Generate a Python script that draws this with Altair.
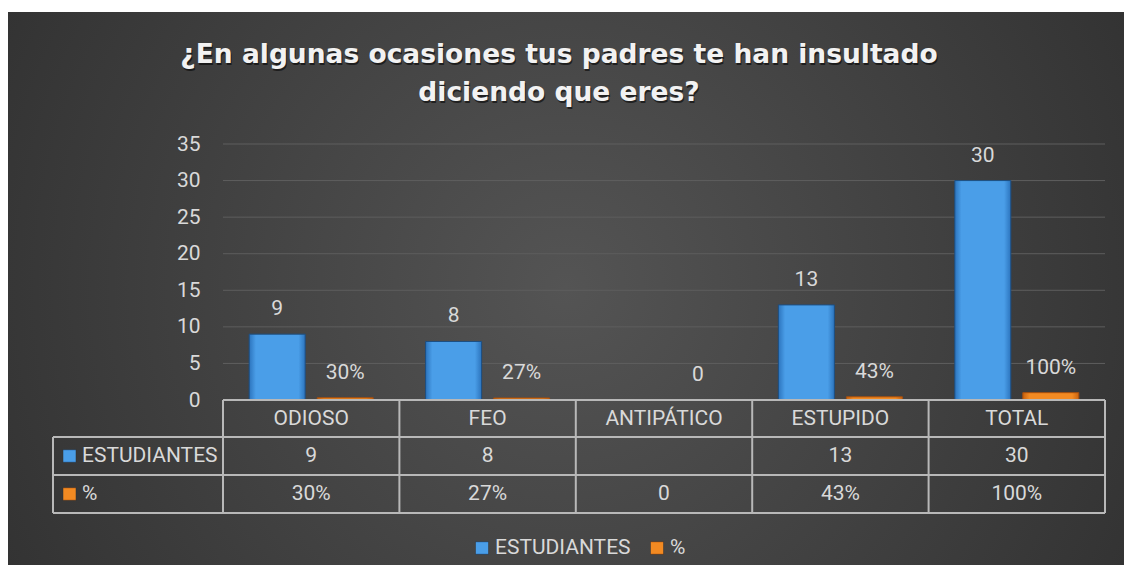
import altair as alt
import pandas as pd

# ---------------- data ----------------
categories = ["ODIOSO", "FEO", "ANTIPÁTICO", "ESTUPIDO", "TOTAL"]
estudiantes = [9, 8, None, 13, 30]
porcentaje = [0.30, 0.27, 0.0, 0.43, 1.00]
est_labels = ["9", "8", "", "13", "30"]
pct_labels = ["30%", "27%", "0", "43%", "100%"]
series = ["ESTUDIANTES", "%"]
y_ticks = [0, 5, 10, 15, 20, 25, 30, 35]
title_lines = ["¿En algunas ocasiones tus padres te han insultado", "diciendo que eres?"]

rows = []
for c, e, p, el, pl in zip(categories, estudiantes, porcentaje, est_labels, pct_labels):
    rows.append({"cat": c, "serie": series[0], "value": e, "label": el})
    rows.append({"cat": c, "serie": series[1], "value": p, "label": pl})
df = pd.DataFrame(rows)
df_est = df[df.serie == series[0]]
df_pct = df[df.serie == series[1]]
df_cat = pd.DataFrame({"cat": categories, "est": est_labels, "pct": pct_labels})
one = pd.DataFrame({"k": [0]})

# ---------------- style ----------------
W, H = 882, 256
FONT = "Roboto"
TXT = "#d9d9d9"
LINE = "#b8b8b8"
FS = 21

def lin(c_edge, c_mid, horizontal=True):
    return alt.LinearGradient(
        gradient="linear",
        stops=[alt.GradientStop(color=c_edge, offset=0),
               alt.GradientStop(color=c_mid, offset=0.12),
               alt.GradientStop(color=c_mid, offset=0.88),
               alt.GradientStop(color=c_edge, offset=1)],
        x1=0, x2=1 if horizontal else 0, y1=0, y2=0 if horizontal else 1)

blue = lin("#2c74bd", "#4a9ee8")
orange = lin("#c9630f", "#f28a22")
bg = alt.RadialGradient(
    gradient="radial",
    stops=[alt.GradientStop(color="#545454", offset=0),
           alt.GradientStop(color="#262626", offset=1)],
    x1=0.5, y1=0.5, r1=0, x2=0.5, y2=0.5, r2=0.78)

x_scale = alt.Scale(domain=categories, paddingInner=0, paddingOuter=0)
x_enc = alt.X("cat:N", sort=categories, scale=x_scale, axis=None)
xoff = alt.XOffset("serie:N", sort=series,
                   scale=alt.Scale(domain=series, paddingInner=0.1765, paddingOuter=0.385))
y_scale = alt.Scale(domain=[0, 35])
y_axis = alt.Axis(values=y_ticks, grid=False, domain=False, ticks=False,
                  labelPadding=23, labelFontSize=FS, labelColor=TXT,
                  labelFont=FONT, zindex=1, title=None)

def y_of(field):
    return alt.Y(f"{field}:Q", scale=y_scale, axis=y_axis, title=None)

# ---------------- layers ----------------
background = alt.Chart(one).mark_rect(color=bg).encode(
    x=alt.value(-215), x2=alt.value(901), y=alt.value(-132), y2=alt.value(421))

grid = alt.Chart(pd.DataFrame({"value": y_ticks[1:]})).mark_rule(
    color="#5e5e5e", strokeWidth=1).encode(
    y=y_of("value"), x=alt.value(0), x2=alt.value(W))

bars_est = alt.Chart(df_est).mark_bar(color=blue, stroke="#1d4f82", strokeWidth=1).encode(
    x=x_enc, xOffset=xoff, y=y_of("value"))
bars_pct = alt.Chart(df_pct).mark_bar(color=orange, stroke="#a84f0c", strokeWidth=1).encode(
    x=x_enc, xOffset=xoff, y=y_of("value"))

bar_labels = alt.Chart(df).mark_text(
    dy=-25, fontSize=FS, font=FONT, color=TXT, baseline="middle").encode(
    x=x_enc, xOffset=xoff, y=y_of("value"), text="label:N")

# table lines
def hline(y, x0):
    return alt.Chart(one).mark_rule(color=LINE, strokeWidth=2).encode(
        x=alt.value(x0), x2=alt.value(W), y=alt.value(y))

table_h = [hline(H, 0), hline(293, -170), hline(331, -170), hline(369, -170)]
vlines = alt.Chart(df_cat).mark_rule(color=LINE, strokeWidth=2).encode(
    x=alt.X("cat:N", sort=categories, scale=x_scale, axis=None, bandPosition=0),
    y=alt.value(H), y2=alt.value(369))
vright = alt.Chart(one).mark_rule(color=LINE, strokeWidth=2).encode(
    x=alt.value(W), y=alt.value(H), y2=alt.value(369))
vleft = alt.Chart(one).mark_rule(color=LINE, strokeWidth=2).encode(
    x=alt.value(-170), y=alt.value(293), y2=alt.value(369))

def row_text(field, y):
    return alt.Chart(df_cat).mark_text(fontSize=FS, font=FONT, color=TXT, baseline="middle").encode(
        x=x_enc, y=alt.value(y), text=f"{field}:N")

table_text = [row_text("cat", 274.5), row_text("est", 312), row_text("pct", 350)]

def marker(color, x, y):
    return alt.Chart(one).mark_square(size=169, color=color, opacity=1, stroke="#333333",
                                      strokeWidth=0.5).encode(x=alt.value(x), y=alt.value(y))

def label(text, x, y):
    return alt.Chart(pd.DataFrame({"t": [text]})).mark_text(
        fontSize=FS, font=FONT, color=TXT, align="left", baseline="middle").encode(
        x=alt.value(x), y=alt.value(y), text="t:N")

blue_m = lin("#2c74bd", "#4a9ee8", horizontal=False)
orange_m = lin("#c9630f", "#f28a22", horizontal=False)
row_keys = [marker(blue_m, -153.5, 312), label(series[0], -141, 312),
            marker(orange_m, -153.5, 350), label(series[1], -141, 350)]
legend = [marker(blue_m, 259, 404), label(series[0], 272, 404),
          marker(orange_m, 434, 404), label(series[1], 447, 404)]

def title_text(t, y, shadow=False):
    return alt.Chart(pd.DataFrame({"t": [t]})).mark_text(
        fontSize=26.5, font="DejaVu Sans", fontWeight="bold",
        color="#000000" if shadow else "#f2f2f2", opacity=0.55 if shadow else 1,
        dx=1 if shadow else 0, dy=2 if shadow else 0,
        align="center", baseline="alphabetic").encode(
        x=alt.value(336), y=alt.value(y), text="t:N")

titles = [title_text(title_lines[0], -81, True), title_text(title_lines[1], -43, True),
          title_text(title_lines[0], -81), title_text(title_lines[1], -43)]

chart = alt.layer(
    background, grid, bars_est, bars_pct, bar_labels,
    *table_h, vlines, vright, vleft, *table_text, *row_keys, *legend, *titles
).properties(
    width=W, height=H,
    autosize=alt.AutoSizeParams(type="none"),
    padding={"left": 215, "top": 136, "right": 19, "bottom": 165},
    background="white",
).configure_view(stroke=None)

chart.save("out.html", embed_options={"renderer": "svg", "actions": False})
